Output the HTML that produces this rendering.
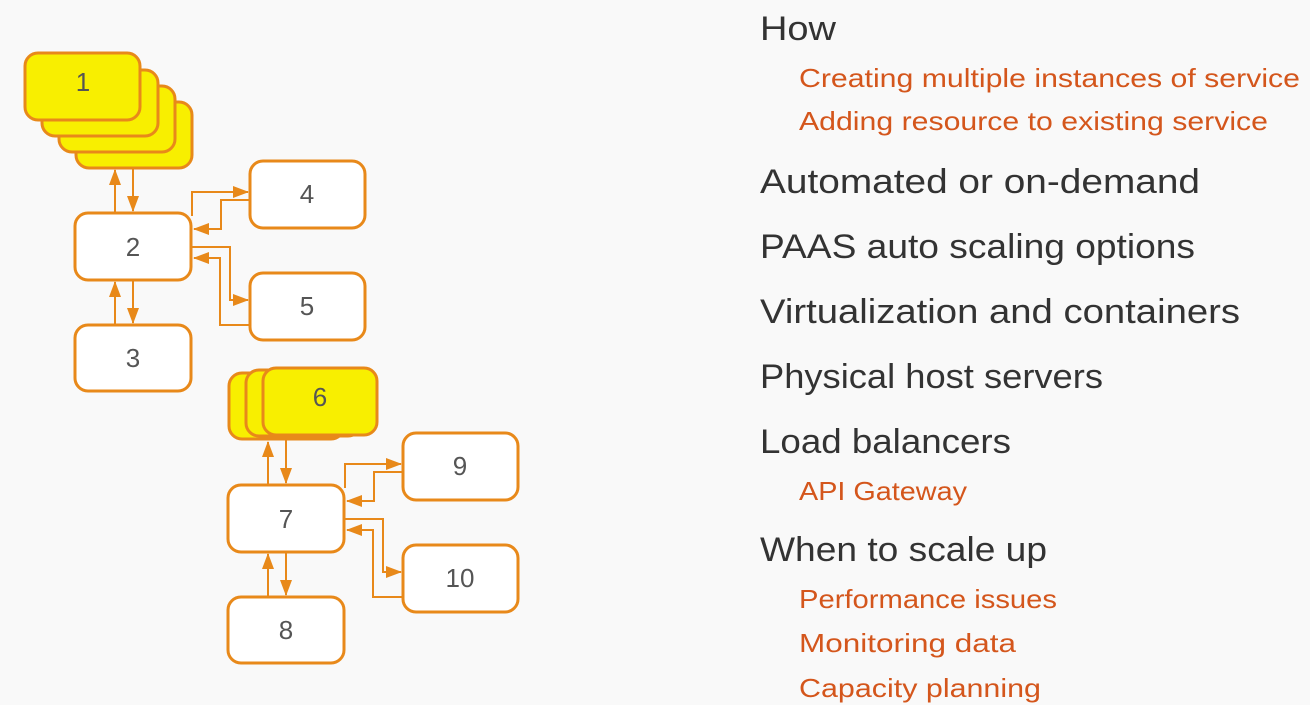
<!DOCTYPE html>
<html><head><meta charset="utf-8"><style>
html,body{margin:0;padding:0;background:#f9f9f9;}
svg{display:block}
.b{fill:#fff;stroke:#e8891a;stroke-width:3}
.y{fill:#f8ef00;stroke:#e8891a;stroke-width:3}
.n{font-family:"Liberation Sans",sans-serif;font-size:26px;fill:#555;text-anchor:middle}
.c{fill:none;stroke:#e8891a;stroke-width:2}
.h{font-family:"Liberation Sans",sans-serif;font-size:34px;fill:#333}
.s{font-family:"Liberation Sans",sans-serif;font-size:26px;fill:#d4561c}
</style></head><body>
<svg width="1310" height="705" viewBox="0 0 1310 705" xmlns="http://www.w3.org/2000/svg">
<defs>
<marker id="ab" markerWidth="16" markerHeight="12" refX="15" refY="6" orient="auto" markerUnits="userSpaceOnUse" viewBox="0 0 16 12"><path d="M0,0 L16,6 L0,12z" fill="#e8891a"/></marker>
<g id="grp">
<path class="c" d="M115,213 V170" marker-end="url(#ab)"/>
<path class="c" d="M133,168 V211" marker-end="url(#ab)"/>
<path class="c" d="M115,325 V282" marker-end="url(#ab)"/>
<path class="c" d="M133,280 V323" marker-end="url(#ab)"/>
<path class="c" d="M192,216 V192 H248" marker-end="url(#ab)"/>
<path class="c" d="M250,200 H221 V229 H194" marker-end="url(#ab)"/>
<path class="c" d="M192,247 H230 V300 H248" marker-end="url(#ab)"/>
<path class="c" d="M250,325 H220 V258 H194" marker-end="url(#ab)"/>
<rect class="b" x="75" y="213" width="116" height="67" rx="13"/>
<rect class="b" x="75" y="325" width="116" height="66" rx="13"/>
<rect class="b" x="250" y="161" width="115" height="67" rx="13"/>
<rect class="b" x="250" y="273" width="115" height="67" rx="13"/>
</g>
</defs>
<rect x="76" y="102" width="116" height="66" rx="13" class="y"/>
<rect x="59" y="86" width="116" height="66" rx="13" class="y"/>
<rect x="42" y="70" width="116" height="66" rx="13" class="y"/>
<rect x="25" y="53" width="115" height="67" rx="13" class="y"/>
<text class="n" x="83" y="91">1</text>
<use href="#grp"/>
<text class="n" x="133" y="256">2</text>
<text class="n" x="133" y="367">3</text>
<text class="n" x="307" y="203">4</text>
<text class="n" x="307" y="315">5</text>

<rect x="229" y="373" width="115" height="66" rx="13" class="y"/>
<rect x="246" y="370" width="115" height="66" rx="13" class="y"/>
<rect x="263" y="368" width="114" height="67" rx="13" class="y"/>
<text class="n" x="320" y="406">6</text>
<use href="#grp" transform="translate(153,272)"/>
<text class="n" x="286" y="528">7</text>
<text class="n" x="286" y="639">8</text>
<text class="n" x="460" y="475">9</text>
<text class="n" x="460" y="587">10</text>

<text class="h" x="760" y="40" textLength="76" lengthAdjust="spacingAndGlyphs">How</text>
<text class="s" x="799" y="87" textLength="501" lengthAdjust="spacingAndGlyphs">Creating multiple instances of service</text>
<text class="s" x="799" y="130" textLength="469" lengthAdjust="spacingAndGlyphs">Adding resource to existing service</text>
<text class="h" x="760" y="193" textLength="440" lengthAdjust="spacingAndGlyphs">Automated or on-demand</text>
<text class="h" x="760" y="258" textLength="435" lengthAdjust="spacingAndGlyphs">PAAS auto scaling options</text>
<text class="h" x="760" y="323" textLength="480" lengthAdjust="spacingAndGlyphs">Virtualization and containers</text>
<text class="h" x="760" y="388" textLength="343" lengthAdjust="spacingAndGlyphs">Physical host servers</text>
<text class="h" x="760" y="453" textLength="251" lengthAdjust="spacingAndGlyphs">Load balancers</text>
<text class="s" x="799" y="500" textLength="168" lengthAdjust="spacingAndGlyphs">API Gateway</text>
<text class="h" x="760" y="561" textLength="287" lengthAdjust="spacingAndGlyphs">When to scale up</text>
<text class="s" x="799" y="608" textLength="258" lengthAdjust="spacingAndGlyphs">Performance issues</text>
<text class="s" x="799" y="652" textLength="217" lengthAdjust="spacingAndGlyphs">Monitoring data</text>
<text class="s" x="799" y="697" textLength="242" lengthAdjust="spacingAndGlyphs">Capacity planning</text>
</svg>
</body></html>
